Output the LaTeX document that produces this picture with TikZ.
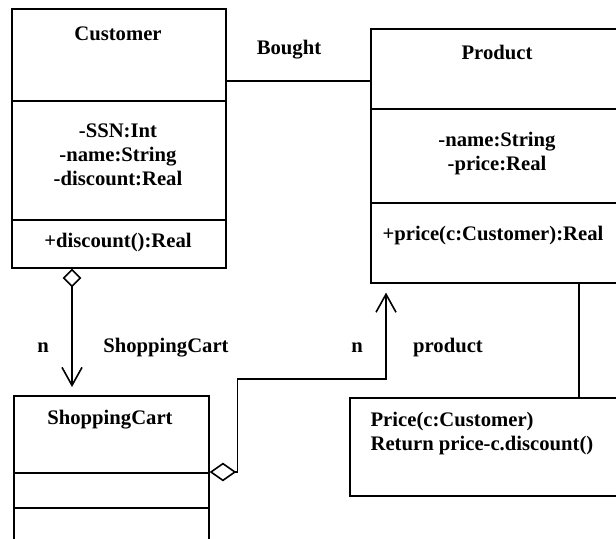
\documentclass[tikz,border=0pt]{standalone}
\usepackage{fontspec}
\setmainfont{Liberation Serif}
\usetikzlibrary{arrows.meta}
\tikzset{
  compart/.style={draw,line width=1.2pt,anchor=north west,inner sep=0pt},
  umltxt/.style={font=\bfseries\fontsize{15.5}{18}\selectfont,inner sep=1pt,align=center},
  umlline/.style={line width=1.2pt},
  barb/.tip={Straight Barb[length=13.5pt,width=15pt]},
  aggr/.style={umlline,{Diamond[open,length=#1,width=14pt]}-{barb}},
  aggr/.default=14pt,
}
\begin{document}
\begin{tikzpicture}[x=0.75pt,y=-0.75pt]
  \useasboundingbox (0,0) rectangle (616,538);
  \clip (0,0) rectangle (616,538);
  % Customer class
  \node[compart,minimum width=160.5pt,minimum height=69pt] (cust) at (11,8) {};
  \node[compart,minimum width=160.5pt,minimum height=89.25pt] (custattr) at (11,100) {};
  \node[compart,minimum width=160.5pt,minimum height=36pt] (custop) at (11,219) {};
  \node[umltxt] (custname) at (118,34) {Customer};
  \node[umltxt] (custattrtxt) at (118,155) {-SSN:Int\\-name:String\\-discount:Real};
  \node[umltxt] (custoptxt) at (118,243) {+discount():Real};
  % Product class
  \node[compart,minimum width=191.25pt,minimum height=60pt] (prod) at (370,28) {};
  \node[compart,minimum width=191.25pt,minimum height=70.5pt] (prodattr) at (370,108) {};
  \node[compart,minimum width=191.25pt,minimum height=60pt] (prodop) at (370,202) {};
  \node[umltxt] (prodname) at (497,52) {Product};
  \node[umltxt] (prodattrtxt) at (497,154) {-name:String\\-price:Real};
  \node[umltxt] (prodoptxt) at (493,236) {+price(c:Customer):Real};
  % ShoppingCart class
  \node[compart,minimum width=146.25pt,minimum height=57.75pt] (cart) at (13,395) {};
  \node[compart,minimum width=146.25pt,minimum height=26.25pt] (cartattr) at (13,472) {};
  \node[compart,minimum width=146.25pt,minimum height=39.75pt] (cartop) at (13,507) {};
  \node[umltxt] (cartname) at (110,420) {ShoppingCart};
  % note
  \node[compart,minimum width=218.25pt,minimum height=73.5pt] (note) at (349,397) {};
  \node[umltxt,anchor=west,align=left] (notetxt) at (369,434) {Price(c:Customer)\\Return price-c.discount()};
  % connectors
  \coordinate (bought) at (0,81);
  \coordinate (aggx) at (72,0);
  \coordinate (bend) at (386,379);
  \coordinate (notex) at (579,0);
  \draw[umlline] (cust.east |- bought) -- (prod.west |- bought);
  \draw[aggr,shorten >=6pt] (custop.south -| aggx) -- (cart.north -| aggx);
  \draw[aggr=20pt,shorten >=6.75pt]
    (cartattr.north east) -- ++(28,0) |- (bend) -- (prodop.south -| bend);
  \draw[umlline] (prodop.south -| notex) -- (note.north -| notex);
  % labels
  \node[umltxt] (boughtlbl) at (289,50) {Bought};
  \node[umltxt] (cartn) at (43,348) {n};
  \node[umltxt] (cartrole) at (166,348) {ShoppingCart};
  \node[umltxt] (prodn) at (357,348) {n};
  \node[umltxt] (prodrole) at (448,348) {product};
\end{tikzpicture}
\end{document}
